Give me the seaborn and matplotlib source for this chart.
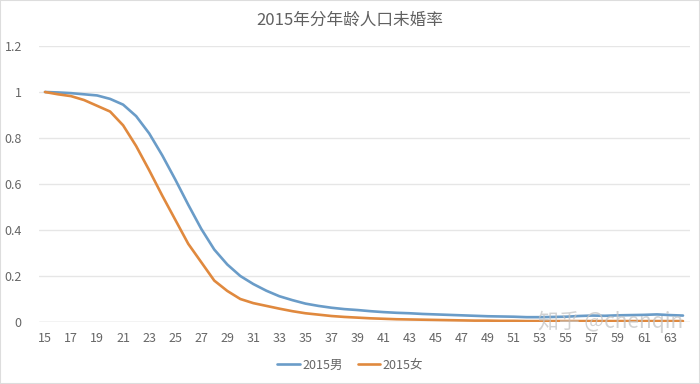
import numpy as np
import pandas as pd
import matplotlib
matplotlib.use("Agg")
import matplotlib.pyplot as plt
import seaborn as sns
from matplotlib.lines import Line2D

ages = list(range(15, 65))
male = [1.0, 0.998, 0.995, 0.99, 0.985, 0.97, 0.945, 0.895, 0.82, 0.725,
        0.62, 0.51, 0.405, 0.315, 0.25, 0.2, 0.165, 0.136, 0.112, 0.095,
        0.08, 0.07, 0.062, 0.056, 0.052, 0.047, 0.043, 0.04, 0.038, 0.035,
        0.033, 0.031, 0.029, 0.027, 0.025, 0.024, 0.023, 0.021, 0.021, 0.022,
        0.023, 0.026, 0.028, 0.027, 0.029, 0.030, 0.031, 0.033, 0.030, 0.028]
female = [1.0, 0.99, 0.982, 0.965, 0.94, 0.915, 0.855, 0.765, 0.66, 0.55,
          0.445, 0.34, 0.26, 0.18, 0.135, 0.10, 0.082, 0.07, 0.058, 0.047,
          0.038, 0.032, 0.026, 0.022, 0.019, 0.016, 0.014, 0.012, 0.011, 0.010,
          0.009, 0.008, 0.007, 0.006, 0.006, 0.005, 0.005, 0.004, 0.004, 0.004,
          0.004, 0.004, 0.004, 0.004, 0.004, 0.004, 0.004, 0.004, 0.004, 0.004]
series_names = ["2015男", "2015女"]
colors = ["#6A9CC8", "#E0893E"]
x_ticks = list(range(15, 64, 2))
y_ticks = [0, 0.2, 0.4, 0.6, 0.8, 1.0, 1.2]
y_tick_labels = ["0", "0.2", "0.4", "0.6", "0.8", "1", "1.2"]
title = "2015年分年龄人口未婚率"

df = pd.DataFrame({
    "age": ages * 2,
    "rate": male + female,
    "series": [series_names[0]] * len(ages) + [series_names[1]] * len(ages),
})

sns.set_theme(style="white")
plt.rcParams["font.family"] = ["Noto Sans CJK SC", "DejaVu Sans"]

fig = plt.figure(figsize=(7.0, 3.84), dpi=100)
ax = fig.add_axes([38.5 / 700, (384 - 322) / 384, (689.5 - 38.5) / 700, (322 - 46) / 384])

sns.lineplot(data=df, x="age", y="rate", hue="series", palette=colors,
             linewidth=1.9, ax=ax, legend=False)

ax.set_xlim(14.5, 64.5)
ax.set_ylim(0, 1.2)
ax.set_xticks(x_ticks)
ax.set_xticklabels([str(t) for t in x_ticks])
ax.set_yticks(y_ticks)
ax.set_yticklabels(y_tick_labels)
ax.tick_params(axis="both", length=0, labelsize=9, labelcolor="#666666")
ax.tick_params(axis="y", pad=12)
ax.tick_params(axis="x", pad=7)
ax.yaxis.grid(True, color="#E6E6E6", linewidth=1.0)
ax.xaxis.grid(False)
for s in ax.spines.values():
    s.set_visible(False)
ax.axhline(0, color="#D9D9D9", linewidth=1.0, zorder=0)
ax.set_xlabel("")
ax.set_ylabel("")

fig.text(0.5, 1 - 20 / 384, title, ha="center", va="center", fontsize=12, color="#606060")

handles = [Line2D([0], [0], color=c, linewidth=1.9) for c in colors]
fig.legend(handles, series_names, loc="center", bbox_to_anchor=(0.5, 1 - 365 / 384),
           ncol=2, frameon=False, fontsize=9, handlelength=1.8, handletextpad=0.2,
           columnspacing=1.2, labelcolor="#666666")

fig.text(538 / 700, 1 - 322 / 384, "知乎 @chenqin", ha="left", va="center",
         fontsize=15, color="#C4C4C4", alpha=0.75)

fig.patches.append(plt.Rectangle((0, 0), 1, 1, transform=fig.transFigure,
                                 fill=False, edgecolor="#DDDDDD", linewidth=1.5))

fig.savefig("out.png", dpi=100)
